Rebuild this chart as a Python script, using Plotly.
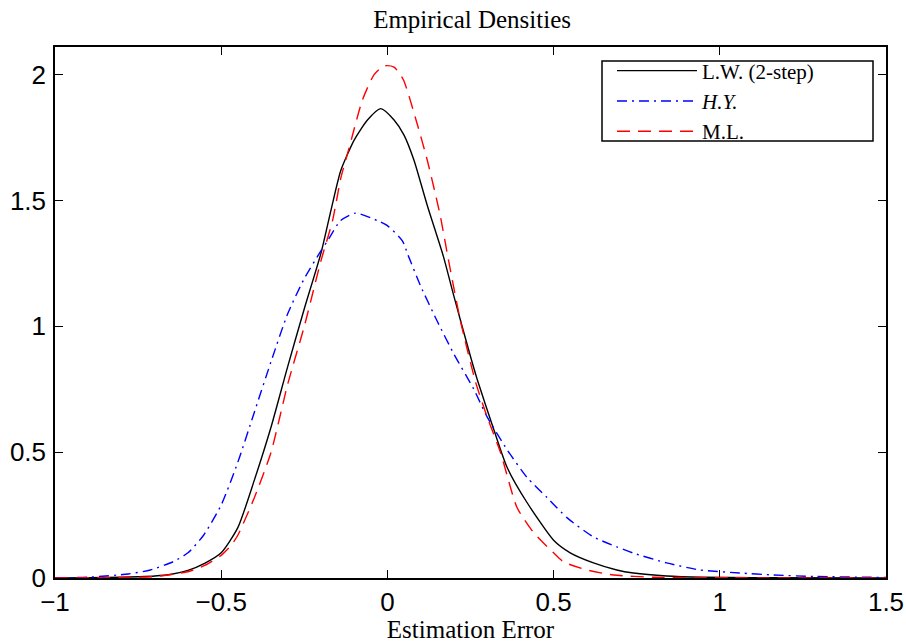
import plotly.graph_objects as go

# L.W. (2-step)
lw_x = [-1.0, -0.9, -0.8, -0.75, -0.7, -0.65, -0.6, -0.55, -0.5, -0.45, -0.4, -0.35, -0.3, -0.25,
        -0.2, -0.17, -0.14, -0.1, -0.06, -0.02, 0.02, 0.05, 0.08, 0.12, 0.168, 0.2, 0.25, 0.27,
        0.32, 0.36, 0.42, 0.5, 0.55, 0.62, 0.69, 0.74, 0.84, 0.95, 1.1, 1.5]
lw_y = [0.0, 0.001, 0.003, 0.005, 0.008, 0.015, 0.03, 0.058, 0.1, 0.2, 0.39, 0.6, 0.84, 1.07,
        1.29, 1.46, 1.62, 1.74, 1.82, 1.865, 1.82, 1.76, 1.66, 1.48, 1.28, 1.12, 0.88, 0.79,
        0.59, 0.44, 0.30, 0.15, 0.10, 0.06, 0.032, 0.02, 0.008, 0.003, 0.001, 0.0]

# H.Y.
hy_x = [-1.0, -0.89, -0.78, -0.713, -0.644, -0.6, -0.553, -0.5, -0.45, -0.4, -0.35, -0.3, -0.25,
        -0.2, -0.18, -0.141, -0.096, -0.03, 0.0, 0.045, 0.063, 0.1, 0.15, 0.2, 0.26, 0.30, 0.36,
        0.42, 0.48, 0.54, 0.62, 0.69, 0.74, 0.84, 0.94, 1.06, 1.16, 1.29, 1.44, 1.5]
hy_y = [0.0, 0.004, 0.016, 0.032, 0.065, 0.10, 0.17, 0.29, 0.46, 0.66, 0.86, 1.05, 1.19,
        1.3, 1.34, 1.42, 1.45, 1.42, 1.40, 1.34, 1.28, 1.16, 1.02, 0.89, 0.75, 0.64, 0.51,
        0.40, 0.32, 0.24, 0.163, 0.124, 0.099, 0.06, 0.032, 0.02, 0.012, 0.006, 0.003, 0.002]

# M.L.
ml_x = [-1.0, -0.8, -0.7, -0.6, -0.55, -0.5, -0.47, -0.45, -0.4, -0.35, -0.3, -0.25, -0.2,
        -0.165, -0.14, -0.117, -0.075, -0.04, -0.01, 0.02, 0.048, 0.084, 0.12, 0.159, 0.18,
        0.22, 0.265, 0.30, 0.34, 0.39, 0.44, 0.5, 0.53, 0.6, 0.68, 0.8, 1.0, 1.5]
ml_y = [0.0, 0.002, 0.006, 0.025, 0.05, 0.09, 0.13, 0.17, 0.32, 0.5, 0.77, 1.0, 1.26,
        1.42, 1.59, 1.70, 1.90, 2.0, 2.035, 2.03, 1.98, 1.83, 1.66, 1.44, 1.29,
        1.02, 0.78, 0.64, 0.50, 0.28, 0.18, 0.10, 0.064, 0.032, 0.012, 0.003, 0.001, 0.0]

x_ticks = [-1, -0.5, 0, 0.5, 1, 1.5]
y_ticks = [0, 0.5, 1, 1.5, 2]

SERIF = "Liberation Serif, Times New Roman, serif"

W, H = 906, 643
PL, PR, PT, PB = 55, 886, 47, 578  # plot-area edges in window pixels
pw, ph = PR - PL, PB - PT


def px(xw):
    return (xw - PL) / pw


def py(yw):
    return (PB - yw) / ph


fig = go.Figure()
fig.add_trace(go.Scatter(x=lw_x, y=lw_y, mode="lines", name="L.W. (2-step)",
                         line=dict(color="black", width=1.4, shape="spline", smoothing=0.6)))
fig.add_trace(go.Scatter(x=hy_x, y=hy_y, mode="lines", name="<i>H.Y.</i>",
                         line=dict(color="blue", width=1.4, dash="10px,5px,2px,5px",
                                   shape="spline", smoothing=0.6)))
fig.add_trace(go.Scatter(x=ml_x, y=ml_y, mode="lines", name="M.L.",
                         line=dict(color="red", width=1.4, dash="13px,8px",
                                   shape="spline", smoothing=0.6)))

axis_common = dict(showline=True, linecolor="black", linewidth=1.5, mirror="ticks",
                   ticks="inside", ticklen=8, tickwidth=1, tickcolor="black",
                   showgrid=False, zeroline=False, automargin=False, layer="below traces",
                   tickfont=dict(family="Liberation Sans, Arial, sans-serif", size=26, color="black"))

fig.update_layout(
    width=W, height=H,
    margin=dict(l=PL, r=W - PR, t=PT, b=H - PB, pad=0),
    paper_bgcolor="white", plot_bgcolor="white",
    title=dict(text="Empirical Densities", x=px(488), xanchor="center",
               y=1 - 19 / H, yanchor="middle", yref="container",
               font=dict(family=SERIF, size=25, color="black")),
    xaxis=dict(range=[-1, 1.5], tickvals=x_ticks, ticklabelstandoff=0,
               title=dict(text="Estimation Error", standoff=0,
                          font=dict(family=SERIF, size=25, color="black")),
               **axis_common),
    yaxis=dict(range=[0, 2.11], tickvals=y_ticks, ticklabelstandoff=2, **axis_common),
    legend=dict(x=px(612), y=py(101), xanchor="left", yanchor="middle",
                bgcolor="rgba(0,0,0,0)", borderwidth=0,
                itemwidth=80, tracegroupgap=0,
                font=dict(family=SERIF, size=21, color="black")),
    shapes=[dict(type="rect", xref="paper", yref="paper",
                 x0=px(602), x1=px(873), y0=py(141), y1=py(61),
                 line=dict(color="black", width=1.5), fillcolor="white", layer="below")],
    showlegend=True,
)

fig.write_html("out.html", config={"displayModeBar": False},
               post_script="document.body.style.margin='0';document.body.style.overflow='hidden';")
